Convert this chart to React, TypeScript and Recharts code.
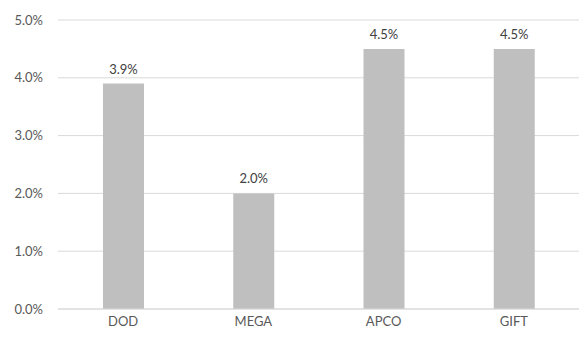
import { BarChart, Bar, XAxis, YAxis, CartesianGrid, LabelList } from 'recharts';

const programs = ['DOD', 'MEGA', 'APCO', 'GIFT'];
const rates = [0.039, 0.02, 0.045, 0.045];
const yTicks = [0, 0.01, 0.02, 0.03, 0.04, 0.05];

const data = programs.map((name, i) => ({ name, rate: rates[i] }));

const pct = (v: number) => `${(v * 100).toFixed(1)}%`;

const font = 'Lato, "Liberation Sans", sans-serif';

export default function App() {
  return (
    <div style={{ position: 'fixed', left: 0, top: 0, background: '#fff' }}>
      <BarChart width={581} height={338} data={data} margin={{ top: 20, right: 2, bottom: 0, left: 0 }}>
        <CartesianGrid vertical={false} stroke="#d9d9d9" />
        <XAxis
          dataKey="name"
          height={29}
          tickLine={false}
          axisLine={{ stroke: '#d9d9d9' }}
          tickMargin={2}
          tick={{ fill: '#595959', fontSize: 13, fontFamily: font }}
        />
        <YAxis
          width={58}
          domain={[0, 0.05]}
          ticks={yTicks}
          tickFormatter={pct}
          tickLine={false}
          axisLine={false}
          tickMargin={9}
          tick={{ fill: '#595959', fontSize: 13, fontFamily: font }}
        />
        <Bar dataKey="rate" fill="#bfbfbf" barSize={41} isAnimationActive={false}>
          <LabelList
            dataKey="rate"
            position="top"
            offset={10}
            formatter={(v: any) => (typeof v === 'number' ? pct(v) : v)}
            style={{ fill: '#404040', fontSize: 13, fontFamily: font }}
          />
        </Bar>
      </BarChart>
    </div>
  );
}
